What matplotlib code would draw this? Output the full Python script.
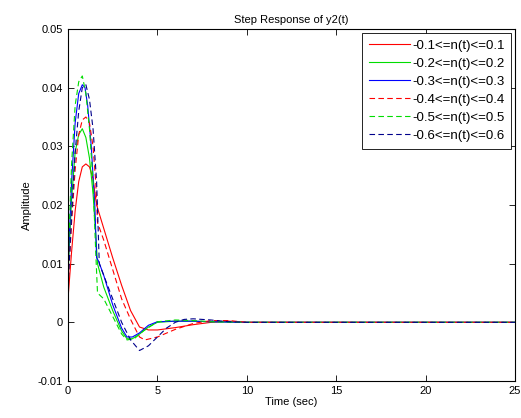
import matplotlib
matplotlib.use("Agg")
import matplotlib.pyplot as plt

plt.rcParams['font.family'] = ['Liberation Sans', 'DejaVu Sans']

labels = ['-0.1<=n(t)<=0.1', '-0.2<=n(t)<=0.2', '-0.3<=n(t)<=0.3',
          '-0.4<=n(t)<=0.4', '-0.5<=n(t)<=0.5', '-0.6<=n(t)<=0.6']

t1 = [0, 0.2, 0.4, 0.6, 0.8, 1.0, 1.2, 1.4, 1.55, 1.65, 2.0, 2.5, 3.0, 3.5, 4.0, 4.5, 5.0, 6.0, 7.0, 8.0, 9.0, 10, 25]
y1 = [0.004, 0.012, 0.019, 0.024, 0.0265, 0.027, 0.0265, 0.0245, 0.021, 0.0195, 0.016, 0.011, 0.0063, 0.002, -0.0008, -0.0013, -0.0013, -0.0009, -0.0004, 0.0, 0.0002, 0, 0]

t2 = [0, 0.2, 0.4, 0.6, 0.8, 1.0, 1.2, 1.4, 1.55, 1.65, 2.0, 2.5, 3.0, 3.3, 3.6, 4.0, 4.5, 5.0, 6, 7, 8, 10, 25]
y2 = [0.008, 0.021, 0.029, 0.032, 0.033, 0.0315, 0.028, 0.022, 0.015, 0.010, 0.006, 0.002, -0.0015, -0.0028, -0.0028, -0.002, -0.0008, 0.0, 0.0002, 0.0002, 0.0001, 0, 0]

t3 = [0, 0.2, 0.4, 0.6, 0.8, 0.95, 1.1, 1.3, 1.5, 1.6, 1.7, 2.0, 2.5, 3.0, 3.3, 3.6, 4.0, 4.5, 5.0, 6, 7, 8, 10, 25]
y3 = [0.009, 0.024, 0.034, 0.039, 0.0405, 0.040, 0.037, 0.030, 0.020, 0.011, 0.0105, 0.008, 0.003, -0.001, -0.0025, -0.0025, -0.0018, -0.0005, 0.0001, 0.0002, 0.0002, 0.0001, 0, 0]

t4 = [0, 0.2, 0.4, 0.6, 0.8, 1.0, 1.2, 1.4, 1.55, 1.65, 2.0, 2.5, 3.0, 3.5, 4.0, 4.3, 5.0, 6.0, 7.0, 8.0, 9.0, 10, 25]
y4 = [0.006, 0.017, 0.026, 0.032, 0.0345, 0.035, 0.034, 0.030, 0.024, 0.017, 0.014, 0.009, 0.004, 0.0005, -0.0025, -0.003, -0.0025, -0.0012, -0.0002, 0.0003, 0.0003, 0, 0]

t5 = [0, 0.2, 0.4, 0.6, 0.8, 1.0, 1.2, 1.4, 1.55, 1.65, 2.0, 2.5, 3.0, 3.3, 3.7, 4.2, 5, 6, 7, 8, 10, 25]
y5 = [0.01, 0.027, 0.037, 0.041, 0.042, 0.039, 0.033, 0.024, 0.012, 0.005, 0.004, 0.001, -0.002, -0.003, -0.0028, -0.0015, 0.0001, 0.0004, 0.0003, 0.0001, 0, 0]

t6 = [0, 0.2, 0.4, 0.6, 0.8, 1.0, 1.2, 1.4, 1.6, 1.75, 2.0, 2.5, 3.0, 3.5, 4.0, 4.5, 5, 5.5, 6, 6.5, 7, 8, 9, 10, 25]
y6 = [0.006, 0.018, 0.029, 0.036, 0.040, 0.0405, 0.038, 0.033, 0.024, 0.010, 0.008, 0.004, 0.0, -0.003, -0.0048, -0.004, -0.0025, -0.001, 0.0, 0.0005, 0.0006, 0.0004, 0.0001, 0, 0]

series = [(t1, y1), (t2, y2), (t3, y3), (t4, y4), (t5, y5), (t6, y6)]
colors = ['#ff0000', '#00dd00', '#0000ff', '#ff0000', '#00dd00', '#00008b']
styles = ['-', '-', '-', '--', '--', '--']

xticks = [0, 5, 10, 15, 20, 25]
yticks = [-0.01, 0, 0.01, 0.02, 0.03, 0.04, 0.05]
yticklabels = ['-0.01', '0', '0.01', '0.02', '0.03', '0.04', '0.05']

fig = plt.figure(figsize=(5.21, 4.18), dpi=100)
ax = fig.add_axes([68/521, 1-381/418, (515-68)/521, (381-29)/418])

for (t, y), c, s, lab in zip(series, colors, styles, labels):
    ax.plot(t, y, color=c, linestyle=s, linewidth=0.8, label=lab,
            dashes=(5, 3) if s == '--' else (None, None))

ax.set_xlim(0, 25)
ax.set_ylim(-0.01, 0.05)
ax.set_xticks(xticks)
ax.set_xticklabels([str(v) for v in xticks])
ax.set_yticks(yticks)
ax.set_yticklabels(yticklabels)
ax.tick_params(direction='in', top=True, right=True, labelsize=8, length=4, width=0.6)
for sp in ax.spines.values():
    sp.set_linewidth(0.8)

ax.set_title('Step Response of y2(t)', fontsize=8, pad=4)
ax.set_xlabel('Time (sec)', fontsize=8, labelpad=1)
ax.set_ylabel('Amplitude', fontsize=8, labelpad=4)

leg = ax.legend(loc='upper right', fontsize=9.5, handlelength=3.1, handletextpad=0.15,
                labelspacing=0.44, borderpad=0.5, fancybox=False, framealpha=1,
                edgecolor='black', borderaxespad=0.3)
leg.get_frame().set_linewidth(0.6)

fig.savefig('out.png', dpi=100)
